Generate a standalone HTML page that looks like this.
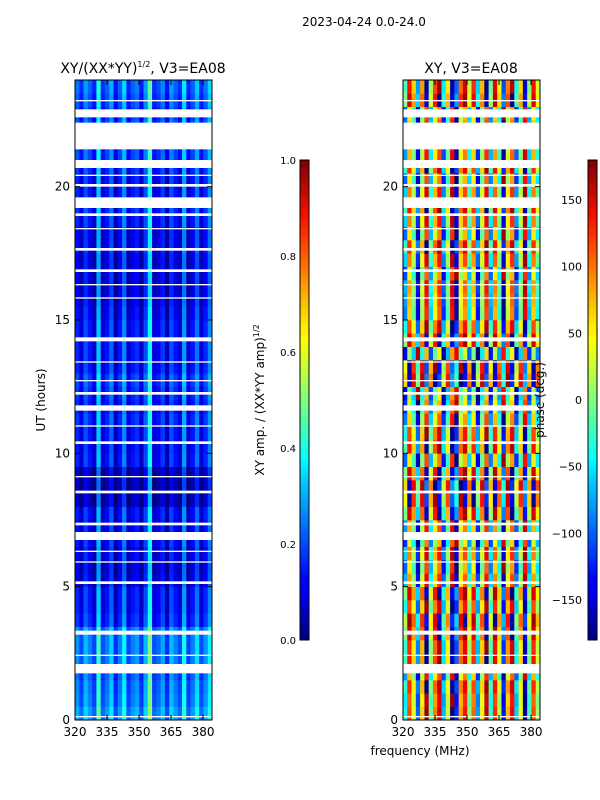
<!DOCTYPE html>
<html><head><meta charset="utf-8"><style>
body{margin:0;background:#fff;}
svg{display:block;font-family:"DejaVu Sans","Liberation Sans",sans-serif;}
</style></head><body>
<svg id="fig" width="600" height="800" viewBox="0 0 600 800">
<defs>
<linearGradient id="jet" x1="0" y1="1" x2="0" y2="0">
<stop offset="0" stop-color="#00007f"/><stop offset="0.11" stop-color="#0000ff"/>
<stop offset="0.125" stop-color="#0000ff"/><stop offset="0.34" stop-color="#00d4ff"/>
<stop offset="0.375" stop-color="#00ffff"/><stop offset="0.5" stop-color="#7dff7a"/>
<stop offset="0.625" stop-color="#ffff00"/><stop offset="0.66" stop-color="#ffe600"/>
<stop offset="0.875" stop-color="#ff1300"/><stop offset="1" stop-color="#7f0000"/>
</linearGradient>
</defs>
<text x="364" y="26" font-size="12" text-anchor="middle">2023-04-24 0.0-24.0</text>
<text x="143" y="73" font-size="14" text-anchor="middle">XY/(XX*YY)<tspan font-size="8" dy="-6">1/2</tspan><tspan dy="6">, V3=EA08</tspan></text>
<text x="471" y="73" font-size="14" text-anchor="middle">XY, V3=EA08</text>
<g id="left"></g>
<g id="right"></g>
<g id="axes"></g>
<rect x="300" y="160" width="9" height="480" fill="url(#jet)" stroke="#000" stroke-width="1"/>
<rect x="588" y="160" width="9" height="480" fill="url(#jet)" stroke="#000" stroke-width="1"/>
<text transform="translate(264,400) rotate(-90)" font-size="12" text-anchor="middle">XY amp. / (XX*YY amp)<tspan font-size="8" dy="-5">1/2</tspan></text>
<text transform="translate(544,400) rotate(-90)" font-size="12" text-anchor="middle">phase (deg.)</text>
<text transform="translate(45,400) rotate(-90)" font-size="12" text-anchor="middle">UT (hours)</text>
<text x="420" y="755" font-size="12" text-anchor="middle">frequency (MHz)</text>
</svg>
<script>
const NS="http://www.w3.org/2000/svg";
// half-hour rows, 0h to 24h
const ampRows=[0.28,0.25,0.24,0.22,0.25,0.25,0.25,0.16,0.14,0.14,0.1,0.09,0.11,0.13,0.12,0.13,0.06,0.05,0.06,0.14,0.13,0.14,0.16,0.14,0.16,0.18,0.14,0.14,0.14,0.14,0.12,0.1,0.1,0.1,0.1,0.12,0.11,0.14,0.16,0.14,0.14,0.16,0.19,0.16,0.2,0.18,0.2,0.22];
const phaseRows=[20,10,30,-20,40,30,60,80,20,60,-10,-40,0,-60,-20,60,100,120,60,-40,40,20,-30,-60,-80,120,100,-80,60,20,-30,-20,-10,-50,0,30,-40,0,40,0,-40,30,-20,60,-30,-40,60,40];
const ampCols=[0.02,-0.05,0.06,0,-0.06,0.18,-0.05,0,0.08,-0.08,0.0,0.12,-0.06,0,0.03,-0.07,0.06,0.25,-0.05,-0.02,0.04,-0.08,0.06,0,-0.05,0.14,-0.06,0.0,0.1,-0.05,0.02,0.12];
const phaseCols=[-60,90,20,-120,40,150,-30,70,130,-90,10,160,-140,60,110,-20,80,-100,30,140,-50,100,0,-150,50,120,-80,20,170,-40,90,-10];
const gaps=[[0.1,0.15],[1.75,2.1],[2.4,2.45],[3.2,3.35],[5.1,5.2],[5.9,5.95],[6.3,6.35],[6.75,7.05],[7.3,7.4],[8.5,8.6],[9.1,9.15],[10.35,10.45],[11.0,11.05],[11.6,11.8],[12.2,12.3],[12.7,12.75],[13.4,13.45],[14.2,14.35],[15.8,15.85],[16.3,16.35],[16.8,16.9],[17.6,17.7],[18.4,18.45],[18.9,19.0],[19.2,19.6],[20.0,20.1],[20.4,20.45],[20.7,21.0],[21.4,22.4],[22.6,22.9],[23.2,23.25]];
const tMin=0,tMax=24,fMin=320,fMax=384.2;
function yS(t){return 720-(t-tMin)/(tMax-tMin)*640;}
function xS(f,x0){return x0+(f-fMin)/(fMax-fMin)*137;}
function jet(v){v=Math.max(0,Math.min(1,v));
 const r=Math.max(0,Math.min(1,1.5-Math.abs(4*v-3))),g=Math.max(0,Math.min(1,1.5-Math.abs(4*v-2))),b=Math.max(0,Math.min(1,1.5-Math.abs(4*v-1)));
 return `rgb(${Math.round(r*255)},${Math.round(g*255)},${Math.round(b*255)})`;}
function draw(gid,x0,rows,cols,norm){
 const g=document.getElementById(gid);
 const dt=(tMax-tMin)/rows.length, df=(fMax-fMin)/cols.length;
 rows.forEach((rv,i)=>{cols.forEach((cv,j)=>{
  const t0=tMin+i*dt,f0=fMin+j*df;
  const r=document.createElementNS(NS,'rect');
  const xa=xS(f0,x0),xb=xS(f0+df,x0),ya=yS(t0+dt),yb=yS(t0);
  r.setAttribute('x',xa);r.setAttribute('y',ya);r.setAttribute('width',xb-xa+0.3);r.setAttribute('height',yb-ya+0.3);
  r.setAttribute('fill',jet(norm(rv,cv)));
  
  
  g.appendChild(r);});});
 gaps.forEach(gp=>{const r=document.createElementNS(NS,'rect');
  r.setAttribute('x',x0);r.setAttribute('y',yS(gp[1]));r.setAttribute('width',137);r.setAttribute('height',yS(gp[0])-yS(gp[1]));
  r.setAttribute('fill','#fff');
  
  
  g.appendChild(r);});
}
draw('left',75,ampRows,ampCols,(a,b)=>a+b);
draw('right',403,phaseRows,phaseCols,(a,b)=>{let p=a+b;p=((p+180)%360+360)%360-180;return (p+180)/360;});
const ax=document.getElementById('axes');
function el(tag,attrs,txt){const e=document.createElementNS(NS,tag);for(const k in attrs)e.setAttribute(k,attrs[k]);if(txt!==undefined)e.textContent=txt;ax.appendChild(e);return e;}
const xTicks=[320,335,350,365,380], yTicks=[0,5,10,15,20];
[75,403].forEach((x0,k)=>{
 const f=el('rect',{x:x0,y:80,width:137,height:640,fill:'none',stroke:'#000'});
 
 
 xTicks.forEach(v=>{const x=xS(v,x0);
  el('line',{x1:x,x2:x,y1:720,y2:715,stroke:'#000'});el('line',{x1:x,x2:x,y1:80,y2:85,stroke:'#000'});
  const t=el('text',{x:x,y:736,'font-size':12,'text-anchor':'middle'},v);
  
  });
 yTicks.forEach(v=>{const y=yS(v);
  el('line',{x1:x0,x2:x0+5,y1:y,y2:y,stroke:'#000'});el('line',{x1:x0+137,x2:x0+132,y1:y,y2:y,stroke:'#000'});
  const t=el('text',{x:x0-5,y:y+4,'font-size':12,'text-anchor':'end'},v);
  
  });
});
const ampTicks=[0.0,0.2,0.4,0.6,0.8,1.0];
ampTicks.forEach(v=>{const y=640-v*480;el('line',{x1:305,x2:309,y1:y,y2:y,stroke:'#000'});
 const t=el('text',{x:296,y:y+4,'font-size':10,'text-anchor':'end'},v.toFixed(1));
 
 });
const phTicks=[-150,-100,-50,0,50,100,150];
phTicks.forEach(v=>{const y=640-(v+180)/360*480;el('line',{x1:593,x2:597,y1:y,y2:y,stroke:'#000'});
 const t=el('text',{x:582,y:y+4,'font-size':11,'text-anchor':'end'},v===0?'0':(v<0?'\u2212'+(-v):v));
 
 });
</script>
</body></html>
